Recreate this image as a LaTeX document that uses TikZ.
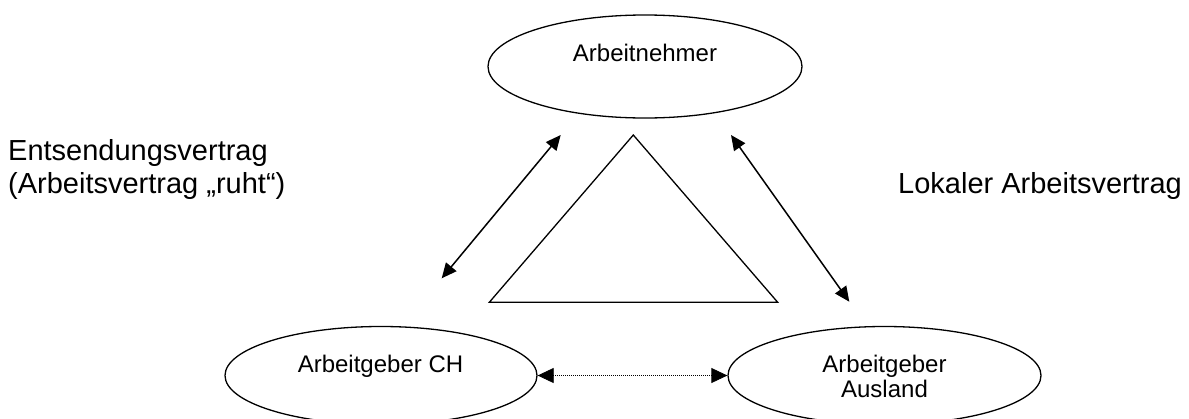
\documentclass[tikz,border=0pt]{standalone}
\usepackage{fontspec}
\setmainfont{Liberation Sans}
\usetikzlibrary{shapes.geometric,arrows.meta}
\tikzset{
  party/.style={draw=black, line width=1.3pt, ellipse, inner sep=0pt, fill=white},
  nodetext/.style={font=\fontsize{24}{25}\selectfont, inner sep=0pt, align=center, anchor=base},
  biglabel/.style={font=\fontsize{29}{33}\selectfont, inner sep=0pt, align=left, anchor=base west},
  relarrow/.style={line width=1.5pt, {Triangle[length=15pt,width=13.5pt]}-{Triangle[length=15pt,width=13.5pt]}},
  dotarrow/.style={line width=0.8pt, dash pattern=on 1pt off 1pt, {Triangle[length=16pt,width=15pt]}-{Triangle[length=16pt,width=15pt]}},
  tri/.style={draw=black, line width=1.3pt, line join=miter}
}
\begin{document}
\begin{tikzpicture}[x=1pt,y=-1pt]
\useasboundingbox (0,0) rectangle (1189,418);
% ellipses
\node[party, minimum width=314pt, minimum height=103pt] (an) at (645,66.5) {};
\node[party, minimum width=312pt, minimum height=98pt] (ch) at (381,375.5) {};
\node[party, minimum width=313pt, minimum height=98pt] (au) at (884.5,375.5) {};
% texts in ellipses
\node[nodetext] (antext) at (645,61) {Arbeitnehmer};
\node[nodetext] (chtext) at (380.5,372) {Arbeitgeber CH};
\node[nodetext] (autext) at (884.5,397) {Arbeitgeber\\Ausland};
% triangle
\coordinate (tA) at (633.3,135);
\coordinate (tB) at (489.3,302.3);
\coordinate (tC) at (777.7,302.3);
\draw[tri] (tA) -- (tB) -- (tC) -- cycle;
% arrows
\coordinate (l1) at (441.7,278.3);
\coordinate (l2) at (560.7,135);
\coordinate (r1) at (731,135);
\coordinate (r2) at (849.3,301.7);
\draw[relarrow] (l1) -- (l2);
\draw[relarrow] (r1) -- (r2);
\draw[dotarrow] (ch.east) -- (au.west);
% labels
\node[biglabel] (lab1) at (8,193) {Entsendungsvertrag\\(Arbeitsvertrag „ruht“)};
\node[biglabel] (lab2) at (898,193) {Lokaler Arbeitsvertrag};
\end{tikzpicture}
\end{document}
